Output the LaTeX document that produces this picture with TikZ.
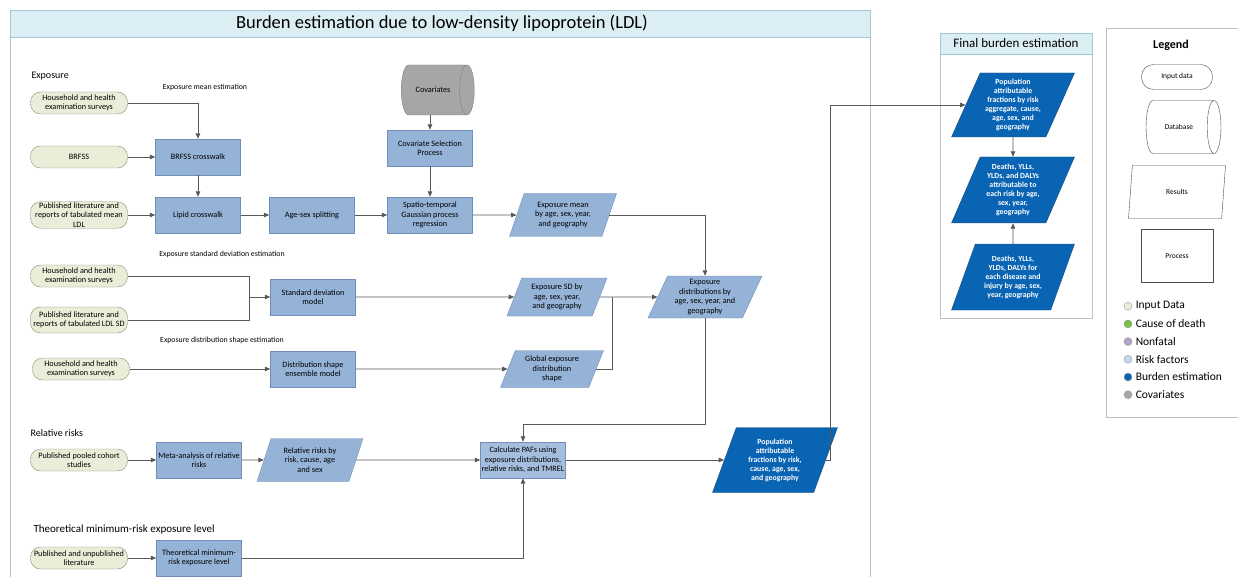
\documentclass[tikz,border=0pt]{standalone}
\usepackage{fontspec}
\setmainfont{Carlito}
\usetikzlibrary{shapes.geometric,arrows.meta}

\definecolor{framegray}{HTML}{BFBFBF}
\definecolor{titlefill}{HTML}{DAEEF3}
\definecolor{titleline}{HTML}{A5C6D4}
\definecolor{inputfill}{HTML}{EBEDD9}
\definecolor{inputline}{HTML}{8C8C78}
\definecolor{procfill}{HTML}{95B3D7}
\definecolor{procline}{HTML}{6F8FB8}
\definecolor{burdenfill}{HTML}{0A64B4}
\definecolor{burdenline}{HTML}{1F4E79}
\definecolor{covfill}{HTML}{A6A6A6}
\definecolor{covline}{HTML}{7F7F7F}
\definecolor{linegray}{HTML}{595959}
\definecolor{causegreen}{HTML}{7AC143}
\definecolor{nonfatalpurple}{HTML}{B3A2C7}
\definecolor{riskblue}{HTML}{C6D9EC}

\tikzset{
  boxtext/.style={font=\fontsize{8.2}{9.4}\selectfont, align=center, inner sep=1pt},
  inputdata/.style={boxtext, draw=inputline, fill=inputfill, rounded corners=10, minimum width=97, minimum height=22},
  process/.style={boxtext, draw=procline, fill=procfill, minimum width=85, minimum height=36},
  result/.style={boxtext, trapezium, trapezium left angle=62, trapezium right angle=118, trapezium stretches body, draw=procline, fill=procfill},
  burden/.style={result, draw=burdenline, fill=burdenfill, text=white, font=\fontsize{7.8}{9}\selectfont\bfseries},
  database/.style={boxtext, cylinder, aspect=1.9, draw=covline, fill=covfill},
  flow/.style={draw=linegray, line width=0.8pt, -{Triangle[length=5.5pt,width=4.5pt]}},
  joinline/.style={draw=linegray, line width=0.8pt},
  sectiontitle/.style={font=\fontsize{10}{12}\selectfont, anchor=west},
  steptitle/.style={font=\fontsize{7.8}{9}\selectfont},
  legendshape/.style={draw=black!70, fill=white, font=\fontsize{7.5}{9}\selectfont}
}

\begin{document}
\begin{tikzpicture}[x=1pt,y=-1pt]
\useasboundingbox (0,0) rectangle (1238,577);
\fill[white] (0,0) rectangle (1238,577);

% Cadres
\draw[framegray] (10,10) rectangle (870,590);
\draw[titleline, fill=titlefill] (10,10) rectangle (870,37);
\node[font=\fontsize{18.5}{20}\selectfont] (maintitle) at (442,23.5) {Burden estimation due to low-density lipoprotein (LDL)};

\draw[framegray] (940,33) rectangle (1092,318);
\draw[titleline, fill=titlefill] (940,33) rectangle (1092,54);
\node[font=\fontsize{13}{15}\selectfont] (finaltitle) at (1016,43.5) {Final burden estimation};

\draw[framegray] (1106,28) rectangle (1245,417);

% Exposure mean
\node[sectiontitle] (exptitle) at (28,76) {Exposure};
\node[steptitle] (meantitle) at (205,87) {Exposure mean estimation};
\node[inputdata] (hhmean) at (79,103) {Household and health\\examination surveys};
\node[inputdata] (brfss) at (79,157) {BRFSS};
\node[inputdata, minimum height=26] (litmean) at (79,215) {Published literature and\\reports of tabulated mean\\LDL};
\node[process] (brfsscw) at (198,157) {BRFSS crosswalk};
\node[process] (lipidcw) at (198,215) {Lipid crosswalk};
\node[process] (agesex) at (312,215) {Age-sex splitting};
\node[database, minimum width=50, minimum height=73] (covariates) at (433,90) {Covariates};
\node[process] (covsel) at (430,148) {Covariate Selection\\Process};
\node[process] (stgpr) at (430,215) {Spatio-temporal\\Gaussian process\\regression};
\node[result, minimum width=107, minimum height=43] (expmean) at (563,215) {Exposure mean\\by age, sex, year,\\and geography};

% Exposure SD
\node[steptitle] (sdtitle) at (222,254) {Exposure standard deviation estimation};
\node[inputdata] (hhsd) at (79,276) {Household and health\\examination surveys};
\node[inputdata, minimum height=26] (litsd) at (79,320) {Published literature and\\reports of tabulated LDL SD};
\coordinate (sdjoin) at (249,297);
\node[process] (sdmodel) at (313,297) {Standard deviation\\model};
\node[result, minimum width=100, minimum height=38] (expsd) at (557,297) {Exposure SD by\\age, sex, year,\\and geography};
\node[result, minimum width=114, minimum height=42] (expdist) at (705,297) {Exposure\\distributions by\\age, sex, year, and\\geography};

% Exposure shape
\node[steptitle] (shapetitle) at (222,340) {Exposure distribution shape estimation};
\node[inputdata] (hhshape) at (81,369) {Household and health\\examination surveys};
\node[process] (shapemodel) at (313,369) {Distribution shape\\ensemble model};
\node[result, minimum width=103, minimum height=37] (globshape) at (552,369) {Global exposure\\distribution\\shape};
\coordinate (shapejoin) at (612,297);

% Relative risks
\node[sectiontitle] (rrtitle) at (27,433) {Relative risks};
\node[inputdata] (cohort) at (79,460) {Published pooled cohort\\studies};
\node[process] (metaan) at (199,460) {Meta-analysis of relative\\risks};
\node[result, minimum width=106, minimum height=43] (rrout) at (310,460) {Relative risks by\\risk, cause, age\\and sex};
\node[process, fill=procfill!85] (calcpaf) at (523,460) {Calculate PAFs using\\exposure distributions,\\relative risks, and TMREL};
\node[burden, minimum width=125, minimum height=65] (pafout) at (775,460) {Population\\attributable\\fractions by risk,\\cause, age, sex,\\and geography};

% TMREL
\node[sectiontitle, font=\fontsize{11}{13}\selectfont] (tmreltitle) at (30,530) {Theoretical minimum-risk exposure level};
\node[inputdata] (litunpub) at (79,558) {Published and unpublished\\literature};
\node[process] (tmrel) at (199,558) {Theoretical minimum-\\risk exposure level};

% Final burden
\node[burden, minimum width=123, minimum height=64] (pafagg) at (1013,105) {Population\\attributable\\fractions by risk\\aggregate, cause,\\age, sex, and\\geography};
\node[burden, minimum width=123, minimum height=66] (attrib) at (1013,190) {Deaths, YLLs,\\YLDs, and DALYs\\attributable to\\each risk by age,\\sex, year,\\geography};
\node[burden, minimum width=123, minimum height=66] (allcause) at (1013,277) {Deaths, YLLs,\\YLDs, DALYs for\\each disease and\\injury by age, sex,\\year, geography};

% Legend
\node[font=\fontsize{12}{14}\selectfont\bfseries] (legtitle) at (1171,45) {Legend};
\node[boxtext, legendshape, rounded corners=12, minimum width=71, minimum height=25] (leginput) at (1177,77) {Input data};
\node[database, legendshape, minimum width=53, minimum height=75] (legdb) at (1179,127) {Database};
\node[result, legendshape, minimum width=97, minimum height=53] (legres) at (1177,192) {Results};
\node[process, legendshape, minimum width=72, minimum height=53] (legproc) at (1177,256) {Process};
\foreach \col/\txt [count=\i] in {inputfill/Input Data, causegreen/Cause of death, nonfatalpurple/Nonfatal, riskblue/Risk factors, burdenfill/Burden estimation, covfill/Covariates}
{
\node[circle, draw=black!40, fill=\col, minimum size=8, inner sep=0] (legdot\i) at (1128,288.5+17.7*\i) {};
\node[anchor=west, font=\fontsize{11.5}{13}\selectfont] (legtxt\i) at (legdot\i.east) {\txt};
}

% Connecteurs
\draw[flow] (hhmean.east) -| (brfsscw.north);
\draw[flow] (brfss) -- (brfsscw);
\draw[flow] (brfsscw) -- (lipidcw);
\draw[flow] (litmean) -- (lipidcw);
\draw[flow] (lipidcw) -- (agesex);
\draw[flow] (agesex) -- (stgpr);
\draw[flow] (covariates.south -| covsel.north) -- (covsel.north);
\draw[flow] (covsel) -- (stgpr);
\draw[flow] (stgpr) -- (expmean);
\draw[flow] (expmean.east) -| (expdist.north);
\draw[joinline] (hhsd.east) -| (sdjoin);
\draw[joinline] (litsd.east) -| (sdjoin);
\draw[flow] (sdjoin) -- (sdmodel.west);
\draw[flow] (sdmodel) -- (expsd);
\draw[flow] (expsd) -- (expdist);
\draw[flow] (hhshape) -- (shapemodel);
\draw[flow] (shapemodel) -- (globshape);
\draw[joinline] (globshape.east) -| (shapejoin);
\draw[flow] (expdist.south) -- ++(0,106) -| (calcpaf.north);
\draw[flow] (cohort) -- (metaan);
\draw[flow] (metaan) -- (rrout);
\draw[flow] (rrout) -- (calcpaf);
\draw[flow] (litunpub) -- (tmrel);
\draw[flow] (tmrel.east) -| (calcpaf.south);
\draw[flow] (calcpaf) -- (pafout);
\draw[flow] (pafout.east) -- ++(5,0) |- (pafagg.west);
\draw[flow] (pafagg) -- (attrib);
\draw[flow] (allcause) -- (attrib);

\end{tikzpicture}
\end{document}
